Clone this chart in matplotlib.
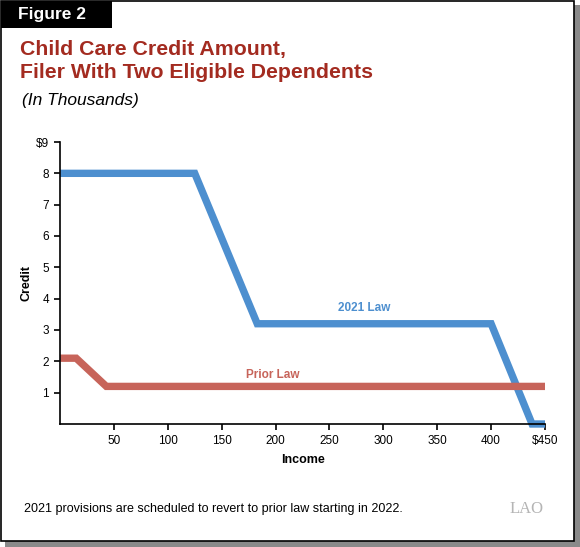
import matplotlib.pyplot as plt
from matplotlib.patches import Rectangle

plt.rcParams['font.family'] = ['Liberation Sans', 'DejaVu Sans']

# income in thousands, credit in thousands
income_2021 = [0, 125, 183, 400, 438, 450]
credit_2021 = [8.0, 8.0, 3.2, 3.2, 0.0, 0.0]
income_prior = [0, 15, 43, 450]
credit_prior = [2.1, 2.1, 1.2, 1.2]
x_ticks = [50, 100, 150, 200, 250, 300, 350, 400, 450]
x_labels = ['50', '100', '150', '200', '250', '300', '350', '400', '$450']
y_ticks = [1, 2, 3, 4, 5, 6, 7, 8, 9]
y_labels = ['1', '2', '3', '4', '5', '6', '7', '8', '$9']

blue = '#4D8FCF'
red = '#C7645A'
title_red = '#A32B20'

fig = plt.figure(figsize=(5.8, 5.47), dpi=100)
W, H = 580, 547

# drop shadow and frame
fig.patches.append(Rectangle((5 / W, 0), 575 / W, 542 / H, transform=fig.transFigure,
                             facecolor='#8a8a8a', edgecolor='none', zorder=0))
fig.patches.append(Rectangle((1 / W, 6 / H), 573 / W, 540 / H, transform=fig.transFigure,
                             facecolor='white', edgecolor='black', linewidth=1.2, zorder=1))
fig.patches.append(Rectangle((1 / W, 1 - 28 / H), 111 / W, 27 / H, transform=fig.transFigure,
                             facecolor='black', edgecolor='none', zorder=2))
fig.text(18 / W, 1 - 14 / H, 'Figure 2', color='white', fontsize=12.5, fontweight='bold',
         va='center', ha='left', zorder=3)

fig.text(20 / W, 1 - 50 / H, 'Child Care Credit Amount,', color=title_red, fontsize=15.3,
         fontweight='bold', va='center', ha='left')
fig.text(20 / W, 1 - 73 / H, 'Filer With Two Eligible Dependents', color=title_red, fontsize=15.3,
         fontweight='bold', va='center', ha='left')
fig.text(22 / W, 1 - 101 / H, '(In Thousands)', color='black', fontsize=12.5,
         fontstyle='italic', va='center', ha='left')

ax = fig.add_axes([60 / W, 1 - 424 / H, 485 / W, 282 / H])
ax.set_zorder(5)
ax.set_facecolor('none')
ax.plot(income_2021, credit_2021, color=blue, linewidth=5.3, solid_capstyle='butt',
        solid_joinstyle='miter', clip_on=False)
ax.plot(income_prior, credit_prior, color=red, linewidth=5.3, solid_capstyle='butt',
        solid_joinstyle='miter', clip_on=False)

ax.text(282, 3.7, '2021 Law', color=blue, fontsize=8.5, fontweight='bold', ha='center', va='center')
ax.text(197, 1.55, 'Prior Law', color=red, fontsize=8.5, fontweight='bold', ha='center', va='center')

ax.set_xlim(0, 450)
ax.set_ylim(0, 9)
ax.set_xticks(x_ticks)
ax.set_xticklabels(x_labels)
ax.set_yticks(y_ticks)
ax.set_yticklabels(y_labels)
ax.spines['top'].set_visible(False)
ax.spines['right'].set_visible(False)
for s in ('left', 'bottom'):
    ax.spines[s].set_linewidth(1.2)
ax.tick_params(axis='both', labelsize=8.5, length=4, width=1.2, pad=4)
ax.set_xlabel('Income', fontsize=9, fontweight='bold', labelpad=5)
ax.set_ylabel('Credit', fontsize=9, fontweight='bold', labelpad=2)

fig.text(24 / W, 1 - 509 / H, '2021 provisions are scheduled to revert to prior law starting in 2022.',
         fontsize=9, va='center', ha='left')
fig.text(527 / W, 1 - 509 / H, 'LAO', family='Liberation Serif', color='#b5b5b5', fontsize=12,
         va='center', ha='center')

fig.savefig('out.png', dpi=100)
